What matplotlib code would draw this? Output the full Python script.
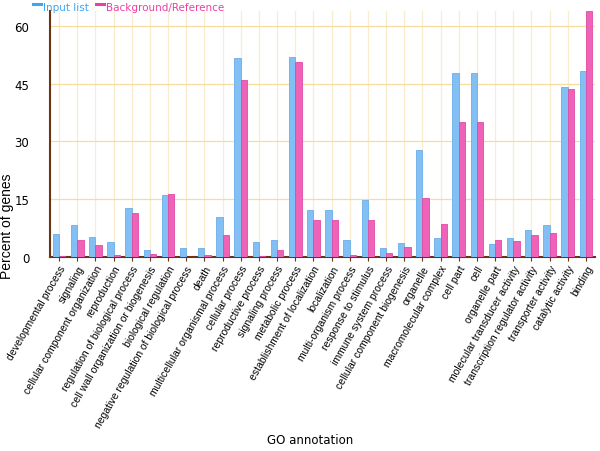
import numpy as np
import matplotlib.pyplot as plt
from matplotlib.lines import Line2D

# GO categories and percentages
categories = [
    'developmental process', 'signaling', 'cellular component organization',
    'reproduction', 'regulation of biological process',
    'cell wall organization or biogenesis', 'biological regulation',
    'negative regulation of biological process', 'death',
    'multicellular organismal process', 'cellular process',
    'reproductive process', 'signaling process', 'metabolic process',
    'establishment of localization', 'localization', 'multi-organism process',
    'response to stimulus', 'immune system process',
    'cellular component biogenesis', 'organelle', 'macromolecular complex',
    'cell part', 'cell', 'organelle part', 'molecular transducer activity',
    'transcription regulator activity', 'transporter activity',
    'catalytic activity', 'binding',
]
input_list = [5.8, 8.3, 5.0, 3.8, 12.5, 1.7, 16.0, 2.1, 2.1, 10.4,
              51.6, 3.8, 4.3, 52.0, 12.0, 12.0, 4.4, 14.8, 2.3, 3.5,
              27.8, 4.7, 47.8, 47.8, 3.2, 4.7, 6.8, 8.1, 44.2, 48.3]
background = [0.1, 4.4, 3.0, 0.4, 11.2, 0.7, 16.2, 0.0, 0.4, 5.6,
              46.0, 0.1, 1.6, 50.6, 9.4, 9.4, 0.3, 9.6, 1.0, 2.5,
              15.3, 8.5, 35.0, 35.0, 4.2, 4.0, 5.5, 6.1, 43.5, 63.8]
y_ticks = [0, 15, 30, 45, 60]

blue = '#82bff5'
pink = '#ee62b8'

fig = plt.figure(figsize=(6, 4.52), dpi=100)
ax = fig.add_axes([0.0833, 0.4303, 0.9083, 0.5438])

x = np.arange(len(categories))
w = 0.35
ax.bar(x - w / 2, input_list, width=w, color=blue, edgecolor='#6aaeea',
       linewidth=0.6, zorder=3)
ax.bar(x + w / 2, background, width=w, color=pink, edgecolor='#e04aa6',
       linewidth=0.6, zorder=3)

ax.set_xlim(-0.5, len(categories) - 0.5)
ax.set_ylim(0, 64)
ax.set_yticks(y_ticks)
ax.set_yticklabels([str(v) for v in y_ticks], fontsize=8.5, family='DejaVu Sans')
ax.set_xticks(x)
ax.set_xticklabels(categories, rotation=60, ha='right', rotation_mode='anchor',
                   fontsize=7.5, family='Liberation Sans')

# grid
for xi in x:
    ax.axvline(xi, color='#fbeccb', linewidth=0.9, zorder=1)
for yv in y_ticks[1:]:
    ax.axhline(yv, color='#f6dc9f', linewidth=0.9, zorder=1)

for side in ['top', 'right']:
    ax.spines[side].set_visible(False)
ax.spines['left'].set_color('#6b3412')
ax.spines['bottom'].set_color('#6b3412')
ax.spines['left'].set_linewidth(1.5)
ax.spines['bottom'].set_linewidth(1.5)
ax.tick_params(axis='y', length=0, pad=15)
ax.tick_params(axis='x', length=3, color='#6b3412', pad=2)

fig.text(0.011, 0.50, 'Percent of genes', fontsize=10, family='Liberation Sans',
         rotation=90, ha='center', va='center')
fig.text(0.517, 0.012, 'GO annotation', fontsize=8.5, family='DejaVu Sans',
         ha='center', va='bottom')

# legend at top-left
fig.add_artist(Line2D([0.055, 0.068], [0.988, 0.988], color='#3fa4f2', lw=2.2,
                      transform=fig.transFigure))
fig.text(0.072, 0.994, 'Input list', color='#3fa4f2', fontsize=7.5, va='top',
         family='DejaVu Sans')
fig.add_artist(Line2D([0.16, 0.173], [0.988, 0.988], color='#ec3fa2', lw=2.2,
                      transform=fig.transFigure))
fig.text(0.177, 0.994, 'Background/Reference', color='#ec3fa2', fontsize=7.5,
         va='top', family='DejaVu Sans')

fig.savefig('out.png', dpi=100)
